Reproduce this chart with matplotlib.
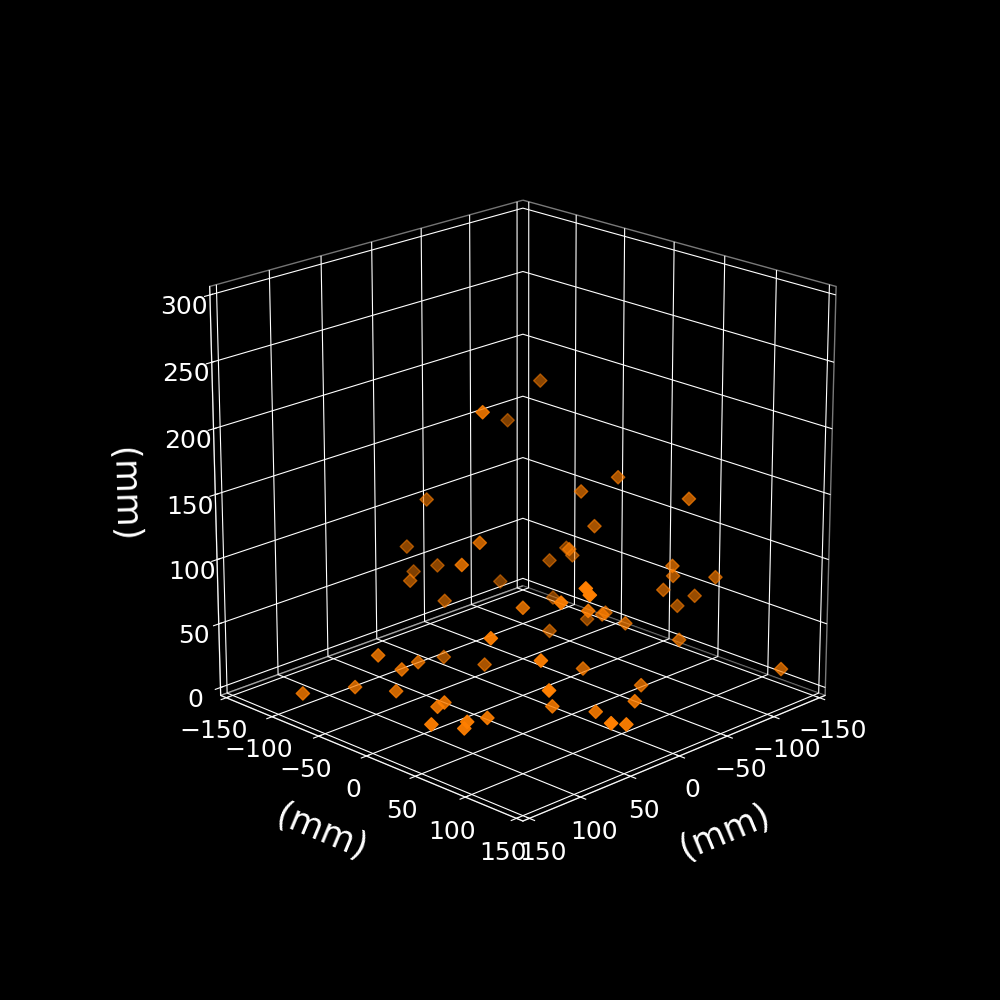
import numpy as np
import matplotlib
matplotlib.use('Agg')
from matplotlib import pyplot as plt

# values, z estimated from marker shading
x_mm = [-69, 50, -67, 5, -79, -60, -100, -67, 1, 22, -98, -54, -86, -74, -15, 46, -17, 14, -63, -92, -108,
        -130, -103, -135, -126, -4, -91, 44, 42, 41, 15, -3, -94, -73, -56, -68, -59, 76, -96, 89, 77, 54,
        5, -6, 51, -31, -147, -59, 91, 126, 80, 62, -27, 70, 74, 15, 0, 63, 88, 88, 106, 31, 8]
y_mm = [-51, 10, -83, -95, 19, 0, 70, 7, -121, -22, -52, -6, -34, -46, -105, -16, -133, -104, -87, 62, 48,
        70, 43, 45, 36, -86, -59, 106, 108, 79, 15, 63, -26, 13, 26, 38, -31, 44, 66, -59, -47, -54,
        -78, -46, 69, 31, 121, 63, -82, -100, -50, 88, 87, -10, -13, 45, 74, 27, 32, 29, 14, 119, 112]
z_mm = [208, 227, 170, 123, 148, 137, 139, 110, 78, 113, 69, 92, 71, 67, 63, 104, 50, 59, 42, 87, 71,
        70, 60, 47, 39, 43, 29, 119, 114, 100, 71, 77, 20, 42, 49, 42, 19, 73, 29, 34, 23, 20,
        3, 3, 56, 15, 7, 3, 3, 3, 6, 42, 7, 6, 3, 3, 3, 3, 9, 3, 7, 17, 7]
ticks_xy = [-150, -100, -50, 0, 50, 100, 150]
ticks_z = [0, 50, 100, 150, 200, 250, 300]


def main():
    plt.style.use('dark_background')
    plt.rcParams['axes3d.automargin'] = True

    fig = plt.figure(figsize=(10, 10), dpi=100)
    ax = fig.add_subplot(projection='3d')
    ax.view_init(elev=20, azim=45)

    # nearer markers are brighter
    depth = np.array(x_mm) + np.array(y_mm)
    colors = np.tile(matplotlib.colors.to_rgba('#ff7f00'), (len(x_mm), 1))
    colors[:, 3] = np.interp(depth, [-150, 150], [0.5, 1.0])
    ax.scatter(x_mm, y_mm, z_mm, marker='D', s=46, c=colors, depthshade=False)

    ax.set_xlim(-150, 150)
    ax.set_ylim(-150, 150)
    ax.set_zlim(0, 300)
    ax.set_xticks(ticks_xy)
    ax.set_yticks(ticks_xy)
    ax.set_zticks(ticks_z)
    ax.set_box_aspect((1, 1, 1), zoom=0.95)
    ax.xaxis.pane.set_facecolor('black')
    ax.yaxis.pane.set_facecolor('black')
    ax.zaxis.pane.set_facecolor('black')
    ax.tick_params(labelsize=18, pad=4)
    ax.xaxis.set_rotate_label(True)
    ax.yaxis.set_rotate_label(True)
    ax.zaxis.set_rotate_label(True)
    ax.set_xlabel('(mm)', fontsize=25, labelpad=20)
    ax.set_ylabel('(mm)', fontsize=25, labelpad=20)
    ax.set_zlabel('(mm)', fontsize=25, labelpad=22)
    fig.savefig('out.png', dpi=100)


if __name__ == "__main__":
    main()
